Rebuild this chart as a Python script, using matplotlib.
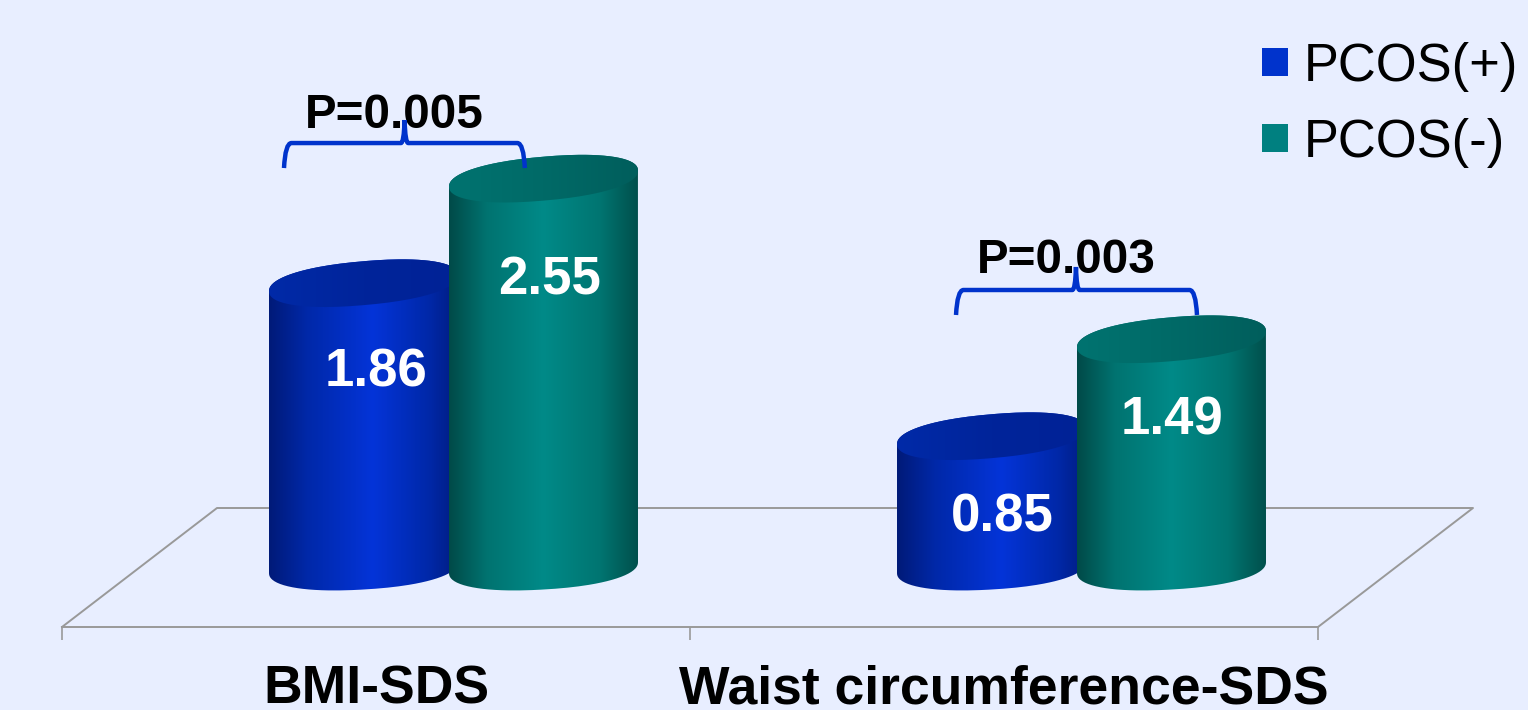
import numpy as np
import matplotlib
matplotlib.use("Agg")
import matplotlib.pyplot as plt
from matplotlib.colors import LinearSegmentedColormap
from matplotlib.patches import Patch, PathPatch
from matplotlib.path import Path

categories = ["BMI-SDS", "Waist circumference-SDS"]
series_names = ["PCOS(+)", "PCOS(-)"]
pcos_pos = [1.86, 0.85]
pcos_neg = [2.55, 1.49]
p_labels = ["P=0.005", "P=0.003"]

BG = "#e8eeff"
GRAY = "#999999"
BLUE = "#0033cc"
TEAL = "#008080"

# 1528x710 at dpi 100, axes fill the figure
# x in category units (628 px each), y in value units (151.5 px each)
fig = plt.figure(figsize=(15.28, 7.10), dpi=100, facecolor=BG)
ax = fig.add_axes([0, 0, 1, 1], facecolor=BG)
xlim = (-62 / 628, (1528 - 62) / 628)
ylim = (-137 / 151.5, 573 / 151.5)

bar_w = 189 / 628
bar_off = 90 / 628
depth = 77.5 / 628
tilt_top, tilt_bot, semi = 0.053, 0.036, 0.145
floor_front, floor_back = -54 / 151.5, 65 / 151.5
floor_shift = 155 / 628

blue_cmap = LinearSegmentedColormap.from_list("b", [(0, "#001a78"), (0.2, "#0028a8"), (0.55, "#0434d8"), (0.85, "#0028a8"), (1, "#001c80")])
teal_cmap = LinearSegmentedColormap.from_list("t", [(0, "#004a48"), (0.2, "#007370"), (0.5, "#008a88"), (0.8, "#007571"), (1, "#004f4c")])
blue_top = LinearSegmentedColormap.from_list("bt", ["#002aa8", "#00249a", "#002296"])
teal_top = LinearSegmentedColormap.from_list("tt", ["#007370", "#006a67", "#005e5c"])


def shaded(path, cmap, x0, x1, y0, y1, z):
    patch = PathPatch(path, facecolor="none", edgecolor="none", transform=ax.transData, zorder=z)
    ax.add_patch(patch)
    grad = np.linspace(0, 1, 256).reshape(1, -1)
    im = ax.imshow(grad, cmap=cmap, extent=(x0, x1, y0, y1), aspect="auto", zorder=z, interpolation="bilinear")
    im.set_clip_path(patch)


def round_cos(t):
    # slightly fuller than a true ellipse, as in the original 3D cylinders
    return np.sign(np.cos(t)) * np.abs(np.cos(t)) ** 0.9


def round_sin(t):
    return np.sign(np.sin(t)) * np.abs(np.sin(t)) ** 0.9


def cylinder(xc, value, body_cmap, top_cmap, z):
    half = bar_w / 2
    t_low = np.linspace(np.pi, 2 * np.pi, 80)
    t_up = np.linspace(0, np.pi, 80)
    t_all = np.linspace(0, 2 * np.pi, 160)
    c_top = value + tilt_top
    c_bot = tilt_bot
    xs = np.r_[xc + half * round_cos(t_low), xc + half * round_cos(t_up)]
    ys = np.r_[c_bot + tilt_bot * round_cos(t_low) + semi * round_sin(t_low),
               c_top + tilt_top * round_cos(t_up) + semi * round_sin(t_up)]
    shaded(Path(np.c_[xs, ys]), body_cmap, xc - half, xc + half, -0.5, value + 0.5, z)
    xe = xc + half * round_cos(t_all)
    ye = c_top + tilt_top * round_cos(t_all) + semi * round_sin(t_all)
    shaded(Path(np.c_[xe, ye]), top_cmap, xc - half, xc + half, value - 0.5, value + 0.5, z + 0.1)


def bracket(left, right, mid, y, z=8):
    leg, tip = 25 / 151.5, 23 / 151.5
    verts = [(left, y - leg), (left + 0.002, y), (left + 0.012, y),
             (mid - 0.006, y), (mid - 0.001, y), (mid, y + tip),
             (mid + 0.001, y), (mid + 0.006, y),
             (right - 0.012, y), (right - 0.002, y), (right, y - leg)]
    codes = [Path.MOVETO, Path.CURVE3, Path.CURVE3,
             Path.LINETO, Path.CURVE3, Path.CURVE3,
             Path.CURVE3, Path.CURVE3,
             Path.LINETO, Path.CURVE3, Path.CURVE3]
    ax.add_patch(PathPatch(Path(verts, codes), facecolor="none", edgecolor=BLUE, lw=3.2, capstyle="butt", zorder=z))


# floor
ax.plot([0, floor_shift, 2 + floor_shift, 2], [floor_front, floor_back, floor_back, floor_front], color=GRAY, lw=1.4, zorder=1)

# cylinders, blue first, teal overlaps it
centers = np.arange(len(categories)) + 0.5 + depth
for i in range(len(categories)):
    cylinder(centers[i] - bar_off, pcos_pos[i], blue_cmap, blue_top, 3)
    cylinder(centers[i] + bar_off, pcos_neg[i], teal_cmap, teal_top, 4)

# value labels, hand placed on the bars
pos_label_dx, pos_label_y = [0.02, 0.017], [1.234, 0.277]
neg_label_dx, neg_label_y = [0.009, 0.0], [1.835, 0.917]
for i in range(len(categories)):
    ax.text(centers[i] - bar_off + pos_label_dx[i], pos_label_y[i], f"{pcos_pos[i]:.2f}", color="white",
            fontsize=38, fontweight="bold", ha="center", va="baseline", zorder=6)
    ax.text(centers[i] + bar_off + neg_label_dx[i], neg_label_y[i], f"{pcos_neg[i]:.2f}", color="white",
            fontsize=38, fontweight="bold", ha="center", va="baseline", zorder=6)

# p value brackets
bracket_l = [0.3535, 1.4236]
bracket_r = [0.737, 1.8073]
bracket_m = [0.5455, 1.6146]
bracket_y = [2.838, 1.868]
p_text_x = [0.529, 1.599]
p_text_y = [2.937, 1.977]
for i in range(len(categories)):
    ax.text(p_text_x[i], p_text_y[i], p_labels[i], color="black", fontsize=34.3, fontweight="bold",
            ha="center", va="baseline", zorder=7)
    bracket(bracket_l[i], bracket_r[i], bracket_m[i], bracket_y[i])

# axis on the front edge of the floor
for name in ["top", "left", "right"]:
    ax.spines[name].set_visible(False)
ax.spines["bottom"].set_position(("data", floor_front))
ax.spines["bottom"].set_bounds(0, 2)
ax.spines["bottom"].set_color(GRAY)
ax.spines["bottom"].set_linewidth(1.4)
ax.set_axisbelow(True)
ax.set_yticks([])
ax.set_xticks([0, 1, 2])
ax.set_xticklabels([])
ax.tick_params(axis="x", which="major", length=9.4, width=1.2, color=GRAY)
ax.set_xticks([0.5, 1.5], minor=True)
ax.set_xticklabels(categories, minor=True, fontsize=38.5, fontweight="bold")
ax.tick_params(axis="x", which="minor", length=0, pad=27)

handles = [Patch(facecolor=BLUE, label=series_names[0]), Patch(facecolor=TEAL, label=series_names[1])]
ax.legend(handles=handles, loc="upper left", bbox_to_anchor=(1262 / 1528, 1 - 42 / 710), frameon=False,
          fontsize=37.8, handlelength=0.49, handleheight=0.45, handletextpad=0.31, labelspacing=0.49,
          borderpad=0, borderaxespad=0)

ax.set_xlim(*xlim)
ax.set_ylim(*ylim)

for t in ax.texts + ax.get_xticklabels(minor=True) + ax.get_legend().get_texts():
    t.set_family(["Liberation Sans", "DejaVu Sans"])

fig.savefig("out.png", dpi=100, facecolor=BG)
